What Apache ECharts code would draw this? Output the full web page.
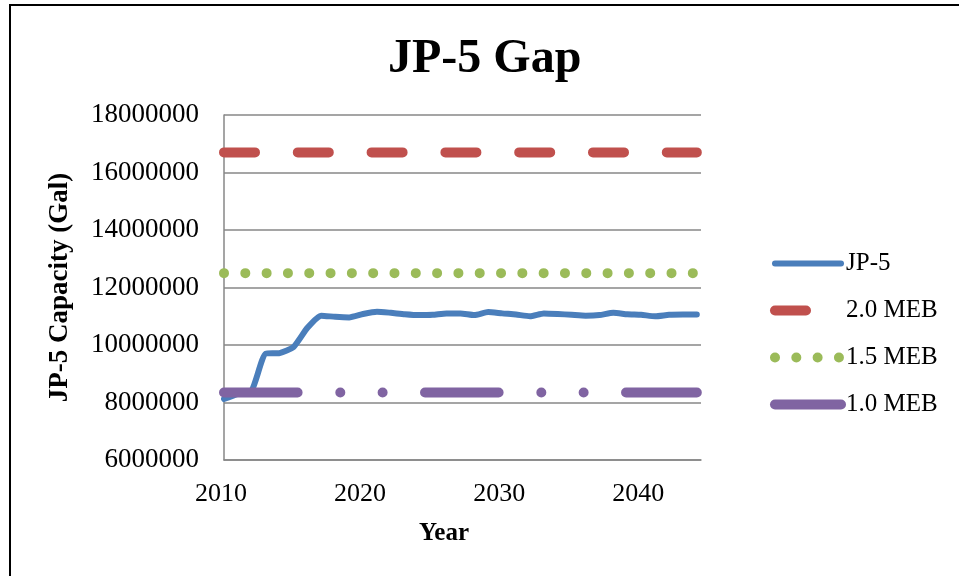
<!DOCTYPE html>
<html>
<head>
<meta charset="utf-8">
<script src="https://cdn.jsdelivr.net/npm/echarts@6/dist/echarts.min.js"></script>
<style>
  html, body { margin: 0; padding: 0; background: #fff; }
  #chart { width: 959px; height: 576px; }
</style>
</head>
<body>
<div id="chart"></div>
<script>
const years = [2010, 2011, 2012, 2013, 2014, 2015, 2016, 2017, 2018, 2019,
               2020, 2021, 2022, 2023, 2024, 2025, 2026, 2027, 2028, 2029,
               2030, 2031, 2032, 2033, 2034, 2035, 2036, 2037, 2038, 2039,
               2040, 2041, 2042, 2043, 2044];
const jp5 = [8120000, 8300000, 8430000, 9700000, 9720000, 9930000, 10600000, 11020000, 10980000, 10960000,
             11080000, 11160000, 11120000, 11070000, 11040000, 11050000, 11100000, 11100000, 11040000, 11150000,
             11100000, 11060000, 11000000, 11100000, 11080000, 11050000, 11020000, 11040000, 11120000, 11070000,
             11050000, 11000000, 11050000, 11060000, 11060000];
const meb20 = [16700000, 16700000, 16700000, 16700000, 16700000, 16700000, 16700000, 16700000, 16700000, 16700000,
               16700000, 16700000, 16700000, 16700000, 16700000, 16700000, 16700000, 16700000, 16700000, 16700000,
               16700000, 16700000, 16700000, 16700000, 16700000, 16700000, 16700000, 16700000, 16700000, 16700000,
               16700000, 16700000, 16700000, 16700000, 16700000];
const meb15 = [12500000, 12500000, 12500000, 12500000, 12500000, 12500000, 12500000, 12500000, 12500000, 12500000,
               12500000, 12500000, 12500000, 12500000, 12500000, 12500000, 12500000, 12500000, 12500000, 12500000,
               12500000, 12500000, 12500000, 12500000, 12500000, 12500000, 12500000, 12500000, 12500000, 12500000,
               12500000, 12500000, 12500000, 12500000, 12500000];
const meb10 = [8350000, 8350000, 8350000, 8350000, 8350000, 8350000, 8350000, 8350000, 8350000, 8350000,
               8350000, 8350000, 8350000, 8350000, 8350000, 8350000, 8350000, 8350000, 8350000, 8350000,
               8350000, 8350000, 8350000, 8350000, 8350000, 8350000, 8350000, 8350000, 8350000, 8350000,
               8350000, 8350000, 8350000, 8350000, 8350000];
const seriesNames = ['JP-5', '2.0 MEB', '1.5 MEB', '1.0 MEB'];
const xTickValues = [2010, 2020, 2030, 2040];
const yTickValues = [6000000, 8000000, 10000000, 12000000, 14000000, 16000000, 18000000];

const FONT = "'Liberation Serif', 'Times New Roman', serif";
const pair = (vals) => years.map((y, i) => [y, vals[i]]);

const chart = echarts.init(document.getElementById('chart'), null, { renderer: 'canvas' });
chart.setOption({
  animation: false,
  backgroundColor: '#ffffff',
  title: {
    text: 'JP-5 Gap',
    left: 383,
    top: 31,
    textStyle: { fontFamily: FONT, fontWeight: 'bold', fontSize: 48, color: '#000' }
  },
  graphic: [{
    type: 'rect',
    shape: { x: 10, y: 5, width: 980, height: 600 },
    style: { fill: 'none', stroke: '#000', lineWidth: 2 },
    silent: true
  }],
  grid: { left: 224, top: 115, width: 477, height: 345, containLabel: false },
  legend: {
    orient: 'vertical',
    left: 765,
    top: 246,
    itemWidth: 66,
    itemHeight: 25,
    itemGap: 22,
    textStyle: { fontFamily: FONT, fontSize: 25, color: '#000', lineHeight: 25 },
    itemStyle: { opacity: 0 },
    lineStyle: { width: 10 },
    data: [
      { name: seriesNames[0], lineStyle: { width: 6 } },
      { name: seriesNames[1], lineStyle: { width: 10 } },
      { name: seriesNames[2], lineStyle: { width: 10 } },
      { name: seriesNames[3], lineStyle: { width: 10 } }
    ]
  },
  xAxis: {
    type: 'value',
    min: xTickValues[0],
    max: 2044.3,
    interval: 10,
    name: 'Year',
    nameLocation: 'middle',
    nameGap: 61,
    nameTextStyle: { fontFamily: FONT, fontWeight: 'bold', fontSize: 25, color: '#000', padding: [0, 37, 0, 0] },
    axisLine: { show: true, lineStyle: { color: '#878787', width: 1.5 } },
    axisTick: { show: false },
    splitLine: { show: false },
    axisLabel: {
      fontFamily: FONT, fontSize: 26, color: '#000', margin: 21,
      showMaxLabel: false,
      padding: [0, 6, 0, 0],
      formatter: (v) => (xTickValues.indexOf(v) >= 0 ? String(v) : '')
    }
  },
  yAxis: {
    type: 'value',
    min: yTickValues[0],
    max: yTickValues[yTickValues.length - 1],
    interval: 2000000,
    name: 'JP-5 Capacity (Gal)',
    nameLocation: 'middle',
    nameRotate: 90,
    nameGap: 150,
    nameTextStyle: { fontFamily: FONT, fontWeight: 'bold', fontSize: 27, color: '#000' },
    axisLine: { show: true, lineStyle: { color: '#878787', width: 1.5 } },
    axisTick: { show: false },
    splitLine: { show: true, lineStyle: { color: '#878787', width: 1.5 } },
    axisLabel: { fontFamily: FONT, fontSize: 27, color: '#000', margin: 25, formatter: (v) => String(v) }
  },
  series: [
    {
      name: seriesNames[0], type: 'line', data: pair(jp5), smooth: 0.18, symbol: 'none',
      lineStyle: { color: '#4a7ebb', width: 6, cap: 'round', join: 'round' },
      itemStyle: { color: '#4a7ebb' }
    },
    {
      name: seriesNames[1], type: 'line', data: pair(meb20), symbol: 'none',
      lineStyle: { color: '#c0504d', width: 10, type: [31, 42.8], cap: 'round' },
      itemStyle: { color: '#c0504d' }
    },
    {
      name: seriesNames[2], type: 'line', data: pair(meb15), symbol: 'none',
      lineStyle: { color: '#9bbb59', width: 10, type: [0.01, 21.3], cap: 'round' },
      itemStyle: { color: '#9bbb59' }
    },
    {
      name: seriesNames[3], type: 'line', data: pair(meb10), symbol: 'none',
      lineStyle: { color: '#8064a2', width: 10, type: [73.6, 42.7, 0.01, 42.3, 0.01, 42.4], cap: 'round' },
      itemStyle: { color: '#8064a2' }
    }
  ]
});
</script>
</body>
</html>
